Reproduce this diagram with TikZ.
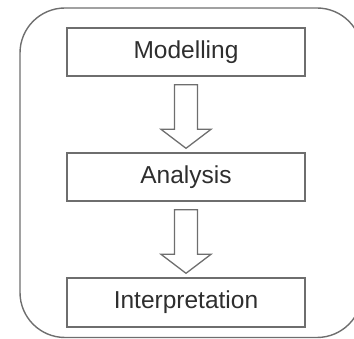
\documentclass[tikz,border=0pt]{standalone}
\usepackage{fontspec}
\setmainfont{Liberation Sans}
\usetikzlibrary{calc}
\definecolor{linegray}{HTML}{6E6E6E}
\definecolor{textgray}{HTML}{2E2E2E}
\tikzset{
  stepbox/.style={draw=linegray, line width=1.4pt, minimum width=238pt, minimum height=48pt,
    inner sep=0pt, font=\fontsize{24.5}{28}\selectfont, text=textgray},
  arrowline/.style={draw=linegray, line width=1.3pt, line join=miter},
  outer/.style={draw=linegray, line width=1.4pt, rounded corners=45pt}
}
\newcommand\blockarrow[2]{%
  \draw[arrowline] let \p1=(#1.south), \p2=(#2.north) in
    (\x1-11.5pt,\y1-8pt) -- (\x1-11.5pt,\y2+23pt) -- (\x1-25pt,\y2+23pt) --
    (\x1,\y2+4pt) -- (\x1+25pt,\y2+23pt) -- (\x1+11.5pt,\y2+23pt) --
    (\x1+11.5pt,\y1-8pt) -- cycle;}
\begin{document}
\begin{tikzpicture}[x=1pt,y=-1pt]
\useasboundingbox (0,0) rectangle (354,339);
\clip (0,0) rectangle (354,339);
\draw[outer] (20,8) rectangle (362,337.5);
\node[stepbox] (m) at (186,52) {Modelling};
\node[stepbox] (a) at (186,177) {Analysis};
\node[stepbox, minimum height=49pt] (i) at (186,302.5) {Interpretation};
\blockarrow{m}{a}
\blockarrow{a}{i}
\end{tikzpicture}
\end{document}
